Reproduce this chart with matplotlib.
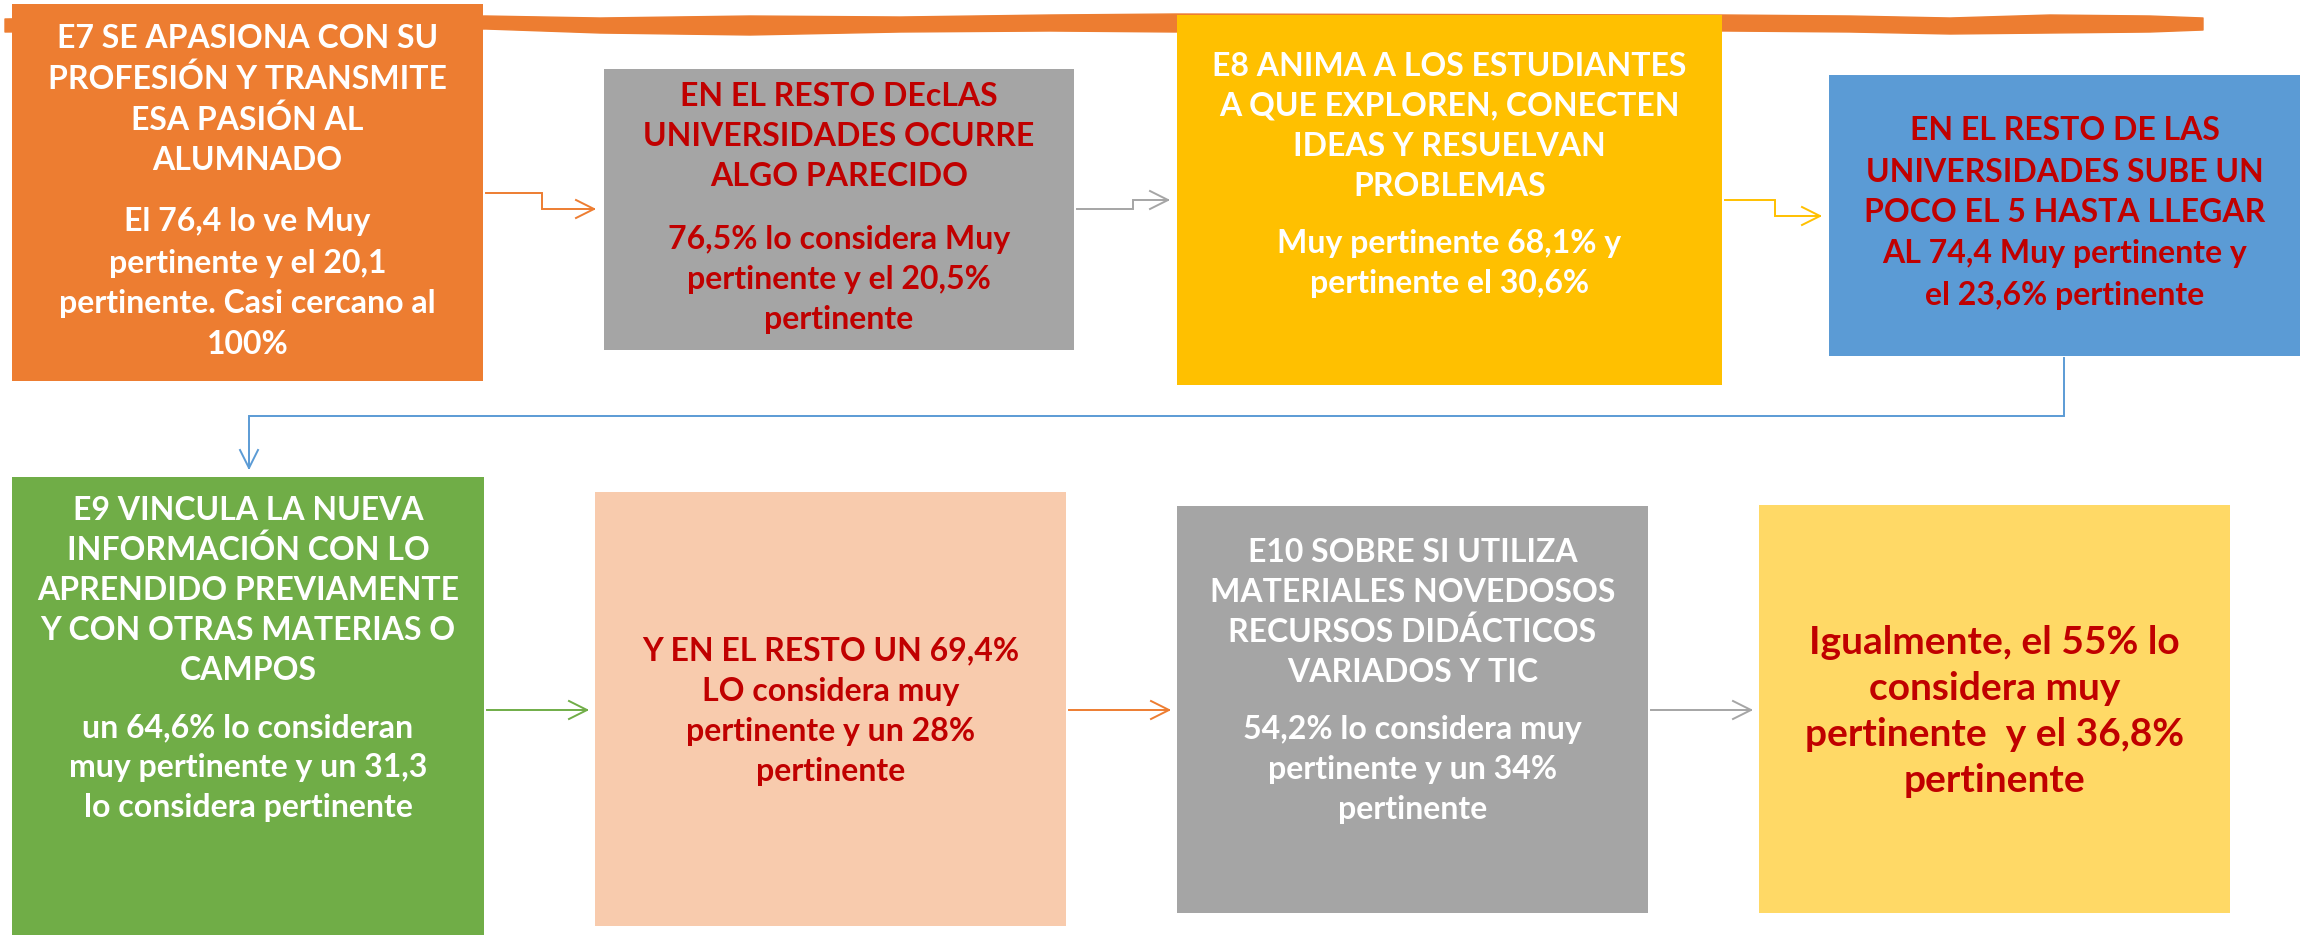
import matplotlib
matplotlib.use("Agg")
import matplotlib.pyplot as plt
from matplotlib.patches import Rectangle, Polygon

W, H = 2316, 935
FONT = ["Lato", "DejaVu Sans"]
WHITE = "#FFFFFF"
RED = "#C00000"

# boxes: left, top, right, bottom (pixels) and fill colour
box_left = [12, 604, 1177, 1829, 12, 595, 1177, 1759]
box_top = [4, 69, 15, 75, 477, 492, 506, 505]
box_right = [483, 1074, 1722, 2300, 484, 1066, 1648, 2230]
box_bottom = [381, 350, 385, 356, 935, 926, 913, 913]
box_colors = ["#ED7D31", "#A5A5A5", "#FFC000", "#5B9BD5",
              "#70AD47", "#F8CBAD", "#A5A5A5", "#FFD966"]
text_colors = [WHITE, RED, WHITE, RED, WHITE, RED, WHITE, RED]

titles = [
    ["E7 SE APASIONA CON SU", "PROFESIÓN Y TRANSMITE", "ESA PASIÓN AL", "ALUMNADO"],
    ["EN EL RESTO DEcLAS", "UNIVERSIDADES OCURRE", "ALGO PARECIDO"],
    ["E8 ANIMA A LOS ESTUDIANTES", "A QUE EXPLOREN, CONECTEN", "IDEAS Y RESUELVAN", "PROBLEMAS"],
    ["EN EL RESTO DE LAS", "UNIVERSIDADES SUBE UN", "POCO EL 5 HASTA LLEGAR",
     "AL 74,4 Muy pertinente y", "el 23,6% pertinente"],
    ["E9 VINCULA LA NUEVA", "INFORMACIÓN CON LO", "APRENDIDO PREVIAMENTE",
     "Y CON OTRAS MATERIAS O", "CAMPOS"],
    ["Y EN EL RESTO UN 69,4%", "LO considera muy", "pertinente y un 28%", "pertinente"],
    ["E10 SOBRE SI UTILIZA", "MATERIALES NOVEDOSOS", "RECURSOS DIDÁCTICOS", "VARIADOS Y TIC"],
    ["Igualmente, el 55% lo", "considera muy", "pertinente  y el 36,8%", "pertinente"],
]
bodies = [
    ["El 76,4 lo ve Muy", "pertinente y el 20,1", "pertinente. Casi cercano al", "100%"],
    ["76,5% lo considera Muy", "pertinente y el 20,5%", "pertinente"],
    ["Muy pertinente 68,1% y", "pertinente el 30,6%"],
    [],
    ["un 64,6% lo consideran", "muy pertinente y un 31,3", "lo considera pertinente"],
    [],
    ["54,2% lo considera muy", "pertinente y un 34%", "pertinente"],
    [],
]
# first line centre for each block
title_y0 = [38, 97, 66, 131, 510, 651, 552, 642]
body_y0 = [222, 239, 244, None, 728, None, 730, None]
font_sizes = [23, 23, 23, 23, 23, 23, 23, 28]
line_steps = [41, 40, 40, 41, 40, 40, 40, 46]

# connectors: list of (x, y) vertices, last one gets an open arrowhead
connectors = [
    ([486, 542, 542, 594], [193, 193, 209, 209], "#ED7D31"),
    ([1077, 1133, 1133, 1168], [209, 209, 200, 200], "#A5A5A5"),
    ([1725, 1775, 1775, 1820], [200, 200, 216, 216], "#FFC000"),
    ([2064, 2064, 249, 249], [358, 416, 416, 468], "#5B9BD5"),
    ([487, 587], [710, 710], "#70AD47"),
    ([1069, 1169], [710, 710], "#ED7D31"),
    ([1651, 1751], [710, 710], "#A5A5A5"),
]

# brush stroke along the top
stroke_x = [5, 150, 486, 600, 750, 900, 1050, 1175, 1725, 1850, 1950, 2050, 2150, 2203]
stroke_top = [19, 17, 16, 18, 16, 17, 15, 14, 15, 16, 18, 15, 16, 18]
stroke_bot = [32, 31, 29, 33, 35, 32, 31, 32, 31, 32, 34, 33, 32, 30]

fig = plt.figure(figsize=(W / 100, H / 100), dpi=100)
ax = fig.add_axes([0, 0, 1, 1])
ax.set_xlim(0, W)
ax.set_ylim(H, 0)
ax.axis("off")

pts = list(zip(stroke_x, stroke_top)) + list(zip(stroke_x[::-1], stroke_bot[::-1]))
ax.add_patch(Polygon(pts, closed=True, facecolor="#ED7D31", edgecolor="#ED7D31",
                     lw=1, joinstyle="round", zorder=1))

for xs, ys, c in connectors:
    ax.plot(xs, ys, color=c, lw=1.4, solid_joinstyle="miter", zorder=2)
    # open chevron head
    dx, dy = xs[-1] - xs[-2], ys[-1] - ys[-2]
    n = (dx ** 2 + dy ** 2) ** 0.5
    ux, uy = dx / n, dy / n
    hx, hy = xs[-1], ys[-1]
    ax.plot([hx - 18 * ux - 9 * uy, hx, hx - 18 * ux + 9 * uy],
            [hy - 18 * uy + 9 * ux, hy, hy - 18 * uy - 9 * ux],
            color=c, lw=1.4, zorder=2)

for i in range(len(box_left)):
    ax.add_patch(Rectangle((box_left[i], box_top[i]), box_right[i] - box_left[i],
                           box_bottom[i] - box_top[i], facecolor=box_colors[i],
                           edgecolor="none", zorder=3))
    cx = (box_left[i] + box_right[i]) / 2
    for j, line in enumerate(titles[i]):
        ax.text(cx, title_y0[i] + j * line_steps[i], line, ha="center", va="center",
                color=text_colors[i], fontsize=font_sizes[i], fontweight="bold",
                family=FONT, zorder=4)
    for j, line in enumerate(bodies[i]):
        ax.text(cx, body_y0[i] + j * line_steps[i], line, ha="center", va="center",
                color=text_colors[i], fontsize=font_sizes[i], fontweight="bold",
                family=FONT, zorder=4)

fig.savefig("out.png", dpi=100)
